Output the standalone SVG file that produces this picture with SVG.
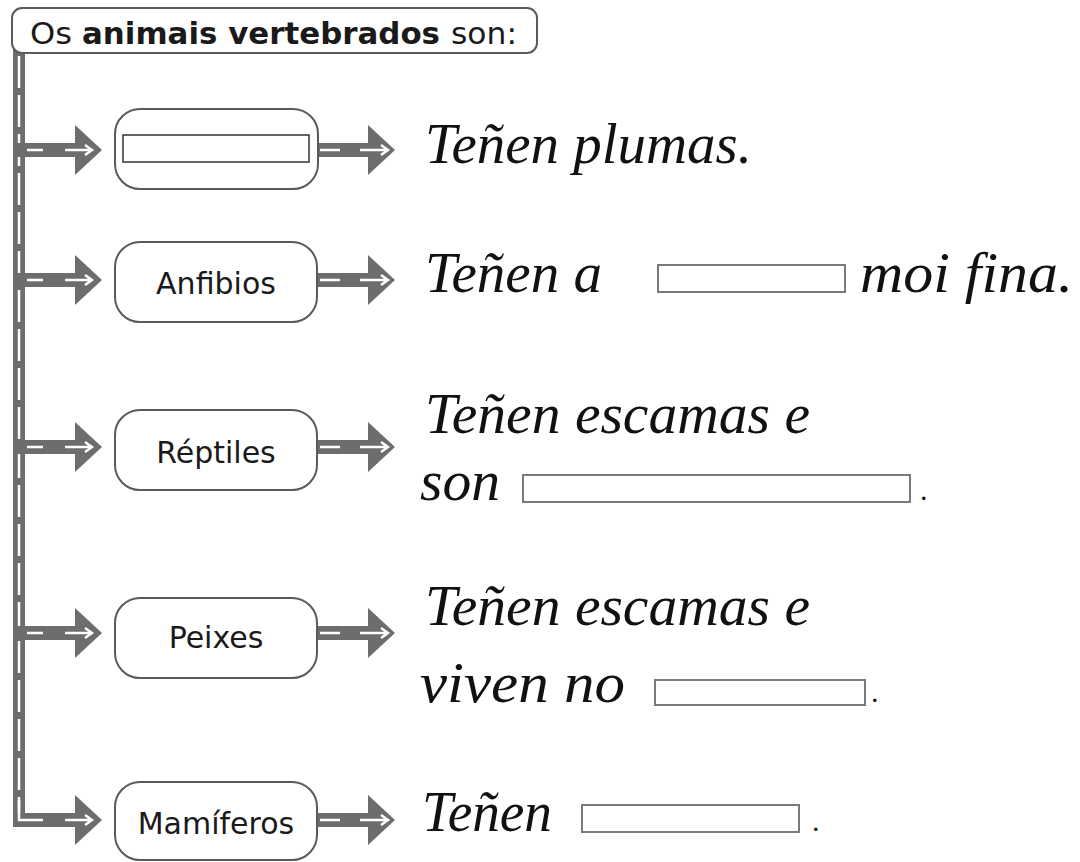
<svg xmlns="http://www.w3.org/2000/svg" width="1080" height="862" viewBox="0 0 1080 862">
<style>
.road{fill:#6d6d6d}
.rw{stroke:#fff;stroke-width:2.5;fill:none}
.node{fill:#fff;stroke:#5a5a5a;stroke-width:2}
.lbl{font-family:"DejaVu Sans","Noto Sans",sans-serif;font-size:30px;fill:#1a1a1a;text-anchor:middle}
.hdr{font-family:"DejaVu Sans","Noto Sans",sans-serif;font-size:31px;fill:#1a1a1a}
.cur{font-family:"Liberation Serif",serif;font-style:italic;font-size:56px;fill:#111}
.dot{font-family:"Liberation Serif",serif;font-size:30px;fill:#111}
.blank{fill:#fff;stroke:#7a7a7a;stroke-width:2}
</style>
<defs>
<g id="arrowL">
<rect class="road" x="13" y="-7" width="63" height="14"/>
<polygon class="road" points="75,-25 102,0 75,25"/>
<path class="rw" d="M27,0H43M65,0H91M85,-5L92,0L85,5"/>
</g>
<g id="arrowR">
<rect class="road" x="317" y="-7" width="52" height="14"/>
<polygon class="road" points="368,-25 395,0 368,25"/>
<path class="rw" d="M320,0H340M360,0H387M381,-5L388,0L381,5"/>
</g>
</defs>
<rect width="1080" height="862" fill="#fff"/>
<g id="connectors">
<rect class="road" x="13" y="48" width="12" height="779"/>
<path class="rw" d="M19,56V815" stroke-dasharray="32 7"/>
<use href="#arrowL" y="150"/>
<use href="#arrowL" y="280"/>
<use href="#arrowL" y="447"/>
<use href="#arrowL" y="633"/>
<use href="#arrowL" y="820"/>
<path class="rw" d="M19,800V820H27"/>
<use href="#arrowR" y="150"/>
<use href="#arrowR" y="280"/>
<use href="#arrowR" y="447"/>
<use href="#arrowR" y="633"/>
<use href="#arrowR" y="820"/>
</g>
<g id="header">
<rect x="12" y="8" width="525" height="45" rx="10" fill="#fff" stroke="#5a5a5a" stroke-width="2"/>
<text class="hdr" x="30" y="44" textLength="42" lengthAdjust="spacingAndGlyphs">Os</text>
<text class="hdr" x="82" y="44" font-weight="bold" textLength="358" lengthAdjust="spacingAndGlyphs">animais vertebrados</text>
<text class="hdr" x="451" y="44" textLength="66" lengthAdjust="spacingAndGlyphs">son:</text>
</g>
<g id="node-aves">
<rect class="node" x="115" y="109" width="203" height="80" rx="25"/>
<rect x="123" y="135" width="186" height="27" fill="#fff" stroke="#333" stroke-width="1.5"/>
</g>
<g id="node-anfibios">
<rect class="node" x="115" y="242" width="202" height="80" rx="25"/>
<text class="lbl" x="216" y="294">Anfibios</text>
</g>
<g id="node-reptiles">
<rect class="node" x="115" y="410" width="202" height="80" rx="25"/>
<text class="lbl" x="216" y="463">Réptiles</text>
</g>
<g id="node-peixes">
<rect class="node" x="115" y="598" width="202" height="80" rx="25"/>
<text class="lbl" x="216" y="648">Peixes</text>
</g>
<g id="node-mamiferos">
<rect class="node" x="115" y="782" width="202" height="78" rx="25"/>
<text class="lbl" x="216" y="834">Mamíferos</text>
</g>
<g id="desc-aves">
<text class="cur" x="425" y="163" textLength="327" lengthAdjust="spacingAndGlyphs">Teñen plumas.</text>
</g>
<g id="desc-anfibios">
<text class="cur" x="425" y="292" textLength="177" lengthAdjust="spacingAndGlyphs">Teñen a</text>
<rect class="blank" x="658" y="265" width="187" height="27"/>
<text class="cur" x="860" y="292" textLength="213" lengthAdjust="spacingAndGlyphs">moi fina.</text>
</g>
<g id="desc-reptiles">
<text class="cur" x="425" y="433" textLength="385" lengthAdjust="spacingAndGlyphs">Teñen escamas e</text>
<text class="cur" x="420" y="500" textLength="80" lengthAdjust="spacingAndGlyphs">son</text>
<rect class="blank" x="523" y="475" width="387" height="27"/>
<text class="dot" x="920" y="500">.</text>
</g>
<g id="desc-peixes">
<text class="cur" x="425" y="625" textLength="385" lengthAdjust="spacingAndGlyphs">Teñen escamas e</text>
<text class="cur" x="420" y="702" textLength="205" lengthAdjust="spacingAndGlyphs">viven no</text>
<rect class="blank" x="655" y="680" width="210" height="25"/>
<text class="dot" x="871" y="702">.</text>
</g>
<g id="desc-mamiferos">
<text class="cur" x="422" y="831" textLength="130" lengthAdjust="spacingAndGlyphs">Teñen</text>
<rect class="blank" x="582" y="805" width="217" height="27"/>
<text class="dot" x="812" y="831">.</text>
</g>
</svg>
